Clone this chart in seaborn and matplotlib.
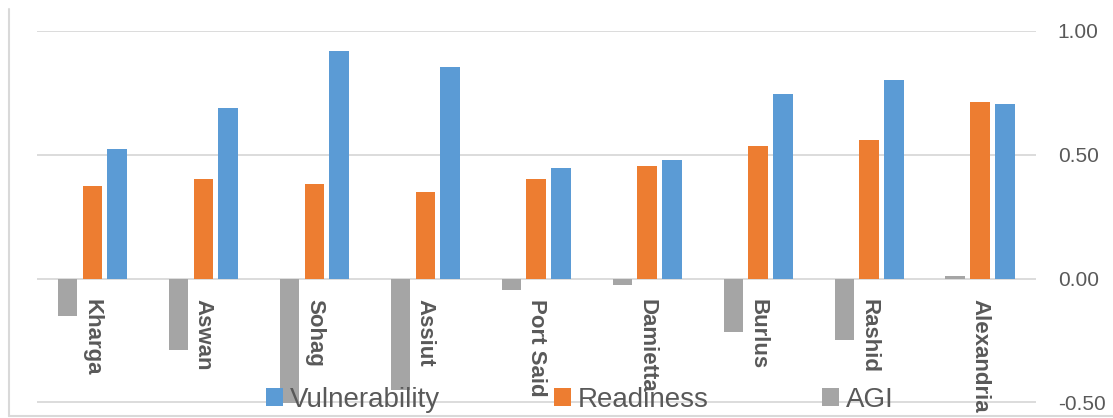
import matplotlib
matplotlib.use("Agg")
import matplotlib.pyplot as plt
import matplotlib.transforms as mtransforms
from matplotlib.lines import Line2D
from matplotlib.patches import Patch
import pandas as pd
import seaborn as sns

# Sites along the category axis
sites = ["Kharga", "Aswan", "Sohag", "Assiut", "Port Said",
         "Damietta", "Burlus", "Rashid", "Alexandria"]

# Index values per site
agi = [-0.150, -0.287, -0.510, -0.450, -0.047, -0.027, -0.217, -0.246, 0.010]
readiness = [0.373, 0.402, 0.384, 0.349, 0.402, 0.454, 0.535, 0.558, 0.714]
vulnerability = [0.522, 0.688, 0.918, 0.854, 0.448, 0.478, 0.747, 0.804, 0.704]

series_order = ["AGI", "Readiness", "Vulnerability"]
legend_order = ["Vulnerability", "Readiness", "AGI"]
y_ticks = [-0.50, 0.00, 0.50, 1.00]

palette = {"AGI": "#A5A5A5", "Readiness": "#ED7D31", "Vulnerability": "#5B9BD5"}
text_color = "#595959"
grid_color = "#D9D9D9"

df = pd.DataFrame({
    "Site": sites * 3,
    "Series": ["AGI"] * len(sites) + ["Readiness"] * len(sites) + ["Vulnerability"] * len(sites),
    "Value": agi + readiness + vulnerability,
})

sns.set_theme(style="white")
plt.rcParams["font.family"] = ["Liberation Sans", "DejaVu Sans"]

W, H = 1113, 418
fig = plt.figure(figsize=(W / 100, H / 100), dpi=100)
ax = fig.add_axes([37 / W, 1 - 402.5 / H, (1035.5 - 37) / W, (402.5 - 31) / H])

sns.barplot(data=df, x="Site", y="Value", hue="Series", order=sites,
            hue_order=series_order, palette=palette, saturation=1,
            width=0.67, gap=0.21, errorbar=None, edgecolor="none",
            linewidth=0, legend=False, ax=ax, zorder=2)

ax.set_xlim(-0.5, len(sites) - 0.5)
ax.set_ylim(-0.5, 1.0)
ax.set_xticks([])
ax.set_xlabel("")
ax.set_ylabel("")
ax.yaxis.tick_right()
ax.set_yticks(y_ticks)
ax.set_yticklabels([f"{v:.2f}" for v in y_ticks])
ax.tick_params(axis="y", length=0, pad=16, labelsize=15, labelcolor=text_color)
for s in ax.spines.values():
    s.set_visible(False)
ax.grid(axis="y", color=grid_color, linewidth=1.3)
ax.set_axisbelow(True)

# Site names hang just below the zero line
label_tf = mtransforms.offset_copy(ax.transData, fig=fig, y=-20, units="dots")
for i, name in enumerate(sites):
    ax.text(i, 0, name, rotation=-90, ha="center", va="top", fontsize=16,
            fontweight="bold", color=text_color, transform=label_tf,
            clip_on=False, zorder=3)

handles = [Patch(facecolor=palette[k], edgecolor="none") for k in legend_order]
fig.legend(handles, legend_order, loc="center",
           bbox_to_anchor=(580 / W, 1 - 400 / H), ncol=3, frameon=False,
           fontsize=20, handlelength=0.6, handleheight=0.6,
           handletextpad=0.25, columnspacing=4.1, labelcolor=text_color)

# Chart frame edges
fig.add_artist(Line2D([9 / W, 9 / W], [1 - 9 / H, 1 - 416 / H], color=grid_color, lw=1.5))
fig.add_artist(Line2D([9 / W, 1.0], [1 - 416 / H, 1 - 416 / H], color=grid_color, lw=1.5))

fig.savefig("out.png", dpi=100)
